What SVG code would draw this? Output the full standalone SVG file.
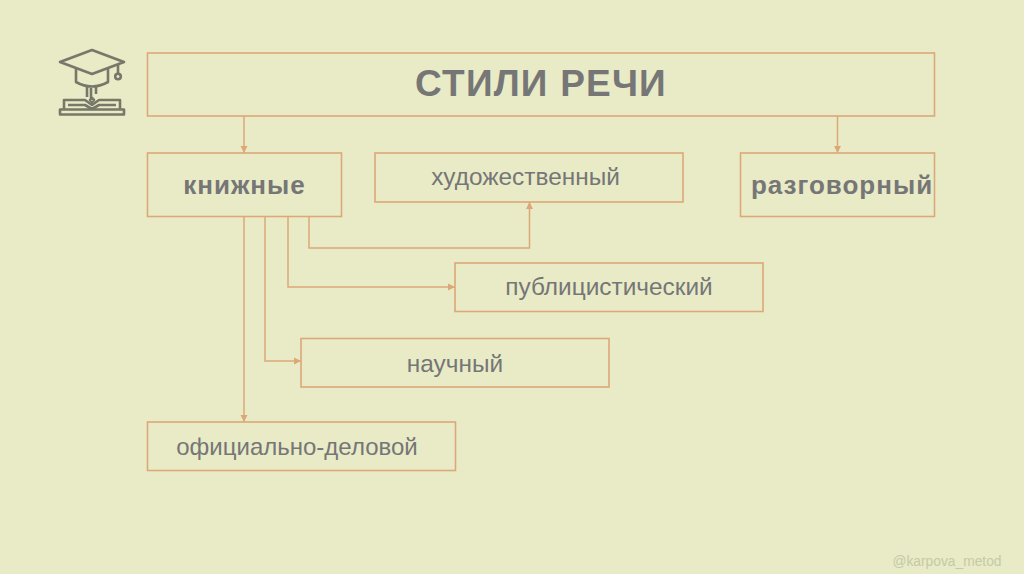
<svg xmlns="http://www.w3.org/2000/svg" width="1024" height="574" viewBox="0 0 1024 574">
<style>
.box{fill:none;stroke:#dca878;stroke-width:1.6}
.c{fill:none;stroke:#dca878;stroke-width:1.5}
text{font-family:"Liberation Sans",Arial,sans-serif;fill:#767676;text-anchor:middle}
.r{font-size:24.400px}
.b{font-size:26px;font-weight:bold;letter-spacing:1px}
.ic{fill:none;stroke:#77776a;stroke-width:2.600;stroke-linejoin:round}
</style>
<defs><marker id="a" markerUnits="userSpaceOnUse" markerWidth="8" markerHeight="8" refX="7" refY="4" orient="auto"><path d="M0 0.500L7 4L0 7.500Z" fill="#dca878"/></marker></defs>
<rect width="1024" height="574" fill="#e8ebc6"/>
<g id="icon" class="ic">
<path d="M60 62L92 50L124 62L92 74Z"/>
<path d="M76 68V82Q92 91 108 82V68"/>
<path d="M118 64V73"/><circle cx="118" cy="76.500" r="2.800"/>
<path d="M87 87V97M91 88V98M96 87V94"/>
<path d="M92 98L94 100L92 102L90 100Z"/>
<path d="M64 109V100H85L92 105L99 100H120V109"/>
<path d="M68 105H85L92 109L99 105H116"/>
<path d="M60 109.500H124V114.500H60Z"/>
</g>
<g id="connectors">
<path class="c" marker-end="url(#a)" d="M244 116V153"/>
<path class="c" marker-end="url(#a)" d="M837.500 116V153"/>
<path class="c" marker-end="url(#a)" d="M309 216V248H529.500V202"/>
<path class="c" marker-end="url(#a)" d="M288 216V287H455"/>
<path class="c" marker-end="url(#a)" d="M265 216V361H301"/>
<path class="c" marker-end="url(#a)" d="M244 216V422"/>
</g>
<g id="title"><rect class="box" x="147.500" y="53" width="787" height="63"/><text x="541" y="96" font-size="37" font-weight="bold" letter-spacing="1.200">СТИЛИ РЕЧИ</text></g>
<g id="knizhnye"><rect class="box" x="147.500" y="153" width="194" height="63.500"/><text class="b" x="244.500" y="194">книжные</text></g>
<g id="khud"><rect class="box" x="375" y="153" width="308" height="49"/><text class="r" x="525.500" y="185">художественный</text></g>
<g id="razg"><rect class="box" x="740.500" y="153" width="194" height="63.500"/><text class="b" x="842" y="194">разговорный</text></g>
<g id="publ"><rect class="box" x="455" y="263" width="308" height="48.500"/><text class="r" x="609" y="295">публицистический</text></g>
<g id="nauch"><rect class="box" x="301" y="338.500" width="308" height="48.500"/><text class="r" x="455" y="372">научный</text></g>
<g id="ofic"><rect class="box" x="147.500" y="422" width="308" height="48.500"/><text x="297" y="455" font-size="24">официально-деловой</text></g>
<text x="947" y="566" font-size="13.800" style="fill:#c6c9a6" id="credit">@karpova_metod</text>
</svg>
